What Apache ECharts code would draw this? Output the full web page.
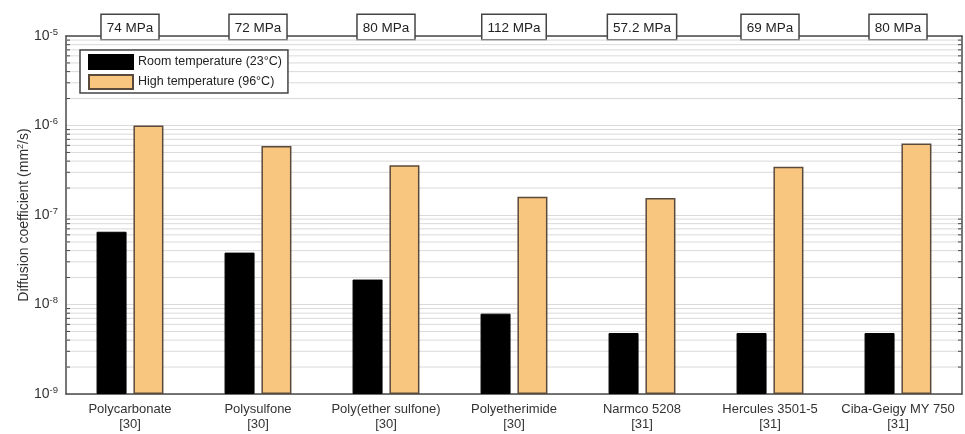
<!DOCTYPE html>
<html>
<head>
<meta charset="utf-8">
<script src="https://cdn.jsdelivr.net/npm/echarts@6/dist/echarts.min.js"></script>
<style>
  html, body { margin: 0; padding: 0; background: #fff; }
  #chart { width: 965px; height: 434px; }
</style>
</head>
<body>
<div id="chart"></div>
<script>
// Materials (bottom axis) with their reference numbers
const materials = [
  'Polycarbonate\n[30]',
  'Polysulfone\n[30]',
  'Poly(ether sulfone)\n[30]',
  'Polyetherimide\n[30]',
  'Narmco 5208\n[31]',
  'Hercules 3501-5\n[31]',
  'Ciba-Geigy MY 750\n[31]'
];
// Strength of each material (top axis)
const strengthLabels = ['74 MPa', '72 MPa', '80 MPa', '112 MPa', '57.2 MPa', '69 MPa', '80 MPa'];

const seriesNames = ['Room temperature (23\u00B0C)', 'High temperature (96\u00B0C)'];
// Diffusion coefficients, mm^2/s
const roomTemp = [6.5e-8, 3.8e-8, 1.9e-8, 7.9e-9, 4.8e-9, 4.8e-9, 4.8e-9];
const highTemp = [1.0e-6, 5.9e-7, 3.6e-7, 1.6e-7, 1.55e-7, 3.45e-7, 6.3e-7];

// Log axis range and the positions of the minor (2..9) ticks in each decade
const yMin = 1e-9;
const yMax = 1e-5;
const decadeExponents = [-9, -8, -7, -6];
const minorMantissas = [2, 3, 4, 5, 6, 7, 8, 9];
const minorTickValues = [];
decadeExponents.forEach(e => minorMantissas.forEach(m => minorTickValues.push(m * Math.pow(10, e))));

const FONT = 'Liberation Sans, Arial, Helvetica, sans-serif';
const AXIS_COLOR = '#4a4a4a';
const GRID_COLOR = '#dadada';

const chart = echarts.init(document.getElementById('chart'), null, { renderer: 'canvas' });

const option = {
  backgroundColor: '#fff',
  animation: false,
  textStyle: { fontFamily: FONT },
  grid: { left: 66, right: 3, top: 36, bottom: 40, containLabel: false },
  legend: {
    data: seriesNames,
    orient: 'vertical',
    left: 80,
    top: 50,
    icon: 'rect',
    itemWidth: 44,
    itemHeight: 14,
    itemGap: 4,
    padding: [4, 6, 3, 8],
    borderColor: '#444',
    borderWidth: 1.5,
    backgroundColor: '#fff',
    textStyle: { fontFamily: FONT, fontSize: 12.5, color: '#222', lineHeight: 14 }
  },
  xAxis: [
    {
      type: 'category',
      data: materials,
      position: 'bottom',
      axisLine: { lineStyle: { color: AXIS_COLOR, width: 1.5 } },
      axisTick: { inside: true, alignWithLabel: true, length: 7, lineStyle: { color: '#999', width: 1 } },
      axisLabel: { interval: 0, fontFamily: FONT, fontSize: 13, color: '#333', lineHeight: 15, margin: 8 },
      splitLine: { show: false }
    },
    {
      type: 'category',
      data: strengthLabels,
      position: 'top',
      axisLine: { lineStyle: { color: AXIS_COLOR, width: 1.5 } },
      axisTick: { inside: true, alignWithLabel: true, length: 9, lineStyle: { color: '#555', width: 1 } },
      axisLabel: {
        interval: 0,
        margin: -3,
        fontFamily: FONT,
        fontSize: 13.5,
        color: '#222',
        backgroundColor: '#fff',
        borderColor: '#444',
        borderWidth: 1.5,
        padding: [6, 5, 4, 5]
      },
      splitLine: { show: false }
    }
  ],
  yAxis: [
    {
      type: 'log',
      logBase: 10,
      min: yMin,
      max: yMax,
      startValue: yMin,
      splitNumber: 4,
      position: 'left',
      name: 'Diffusion coefficient (mm{s|2}/s)',
      nameLocation: 'middle',
      nameGap: 34,
      nameMoveOverlap: false,
      nameTextStyle: {
        fontFamily: FONT,
        fontSize: 14,
        color: '#333',
        rich: {
          s: { fontFamily: FONT, fontSize: 9, color: '#333', verticalAlign: 'top', padding: [0, 0, 7, 0] }
        }
      },
      axisLine: { show: true, lineStyle: { color: AXIS_COLOR, width: 1.5 } },
      axisTick: { inside: true, length: 8, lineStyle: { color: '#444', width: 1 } },
      axisLabel: {
        margin: 8,
        formatter: v => '{b|10}{e|' + Math.round(Math.log10(v)) + '}',
        rich: {
          b: { fontFamily: FONT, fontSize: 14, color: '#333' },
          e: { fontFamily: FONT, fontSize: 9.5, color: '#333', verticalAlign: 'top', padding: [0, 0, 8, 0] }
        }
      },
      splitLine: { show: true, lineStyle: { color: GRID_COLOR, width: 1 } }
    },
    {
      type: 'log',
      logBase: 10,
      min: yMin,
      max: yMax,
      splitNumber: 4,
      position: 'right',
      axisLine: { show: true, lineStyle: { color: AXIS_COLOR, width: 1.5 } },
      axisTick: { inside: true, length: 8, lineStyle: { color: '#444', width: 1 } },
      axisLabel: { show: false },
      splitLine: { show: false }
    }
  ],
  series: [
    {
      // minor gridlines and minor ticks on both vertical axes
      type: 'custom',
      silent: true,
      z: 1,
      xAxisIndex: 0,
      yAxisIndex: 0,
      data: minorTickValues.map(v => [0, v]),
      renderItem: (params, api) => {
        const cs = params.coordSys;
        const y = api.coord([0, api.value(1)])[1];
        return {
          type: 'group',
          children: [
            { type: 'line', shape: { x1: cs.x, y1: y, x2: cs.x + cs.width, y2: y }, style: { stroke: GRID_COLOR, lineWidth: 1 } },
            { type: 'line', shape: { x1: cs.x, y1: y, x2: cs.x + 4, y2: y }, style: { stroke: '#444', lineWidth: 1 } },
            { type: 'line', shape: { x1: cs.x + cs.width - 4, y1: y, x2: cs.x + cs.width, y2: y }, style: { stroke: '#444', lineWidth: 1 } }
          ]
        };
      }
    },
    {
      name: seriesNames[0],
      type: 'bar',
      xAxisIndex: 0,
      yAxisIndex: 0,
      z: 3,
      data: roomTemp,
      barWidth: 30,
      barGap: '23%',
      itemStyle: { color: '#000', borderColor: '#000', borderWidth: 1 }
    },
    {
      name: seriesNames[1],
      type: 'bar',
      xAxisIndex: 0,
      yAxisIndex: 0,
      z: 3,
      data: highTemp,
      barWidth: 30,
      barGap: '23%',
      itemStyle: { color: '#F8C67E', borderColor: '#5a4a3c', borderWidth: 1.5 }
    }
  ]
};

chart.setOption(option);
</script>
</body>
</html>
